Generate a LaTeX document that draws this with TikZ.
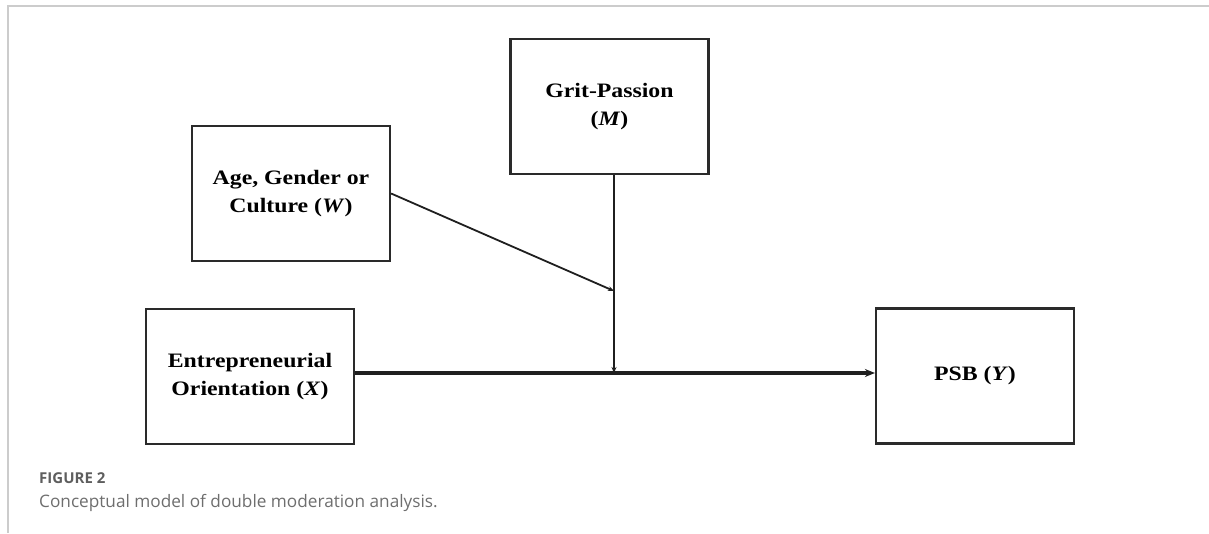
\documentclass[tikz,border=0pt]{standalone}
\usepackage{fontspec}
\setmainfont{Liberation Serif}[FakeStretch=1.16]
\newfontfamily\capfont{Open Sans}
\usetikzlibrary{arrows.meta}
\definecolor{boxline}{HTML}{2A2A2A}
\definecolor{framegray}{HTML}{CCCCCC}
\definecolor{capgray}{HTML}{6E6E6E}
\definecolor{figgray}{HTML}{5E5E5E}
\begin{document}
\begin{tikzpicture}[x=1pt,y=1pt,
  varbox/.style={draw=boxline,line width=2.2pt,minimum width=198pt,minimum height=135pt,
    align=center,inner sep=0pt,font=\fontsize{20.5}{28}\selectfont\bfseries},
  link/.style={draw=black!88,line width=1.8pt},
  mainlink/.style={draw=black!88,line width=3.2pt,-{Stealth[length=10pt,width=8pt]}}]
\useasboundingbox (0,0) rectangle (1209,533);
% page frame
\draw[framegray,line width=2pt] (1209,526.5) -- (8,526.5) -- (8,0);
% variables
\node[varbox] (M) at (609.5,426.5) {Grit-Passion\\(\textit{M})};
\node[varbox] (W) at (291,339.5) {Age, Gender or\\Culture (\textit{W})};
\node[varbox,minimum width=208pt] (X) at (250,156.5) {Entrepreneurial\\Orientation (\textit{X})};
\node[varbox] (Y) at (975,157) {PSB (\textit{Y})};
% junction points on the paths
\coordinate (j) at (614,160);
\coordinate (k) at (614,242);
% direct effect
\draw[mainlink] (X.east |- j) -- (Y.west |- j);
% moderators
\draw[link,-{Stealth[length=6pt,width=5pt]}] (M.south -| j) -- (j);
\draw[link,-{Stealth[length=6pt,width=5pt]}] (W.east) -- (k);
% caption
\node[anchor=base west,inner sep=0pt,text=figgray] (fig) at (39,50)
  {\fontsize{15}{17}\selectfont\capfont\bfseries FIGURE 2};
\node[anchor=base west,inner sep=0pt,text=capgray] (cap) at (39,26)
  {\capfont\fontsize{17.2}{20}\selectfont Conceptual model of double moderation analysis.};
\end{tikzpicture}
\end{document}
